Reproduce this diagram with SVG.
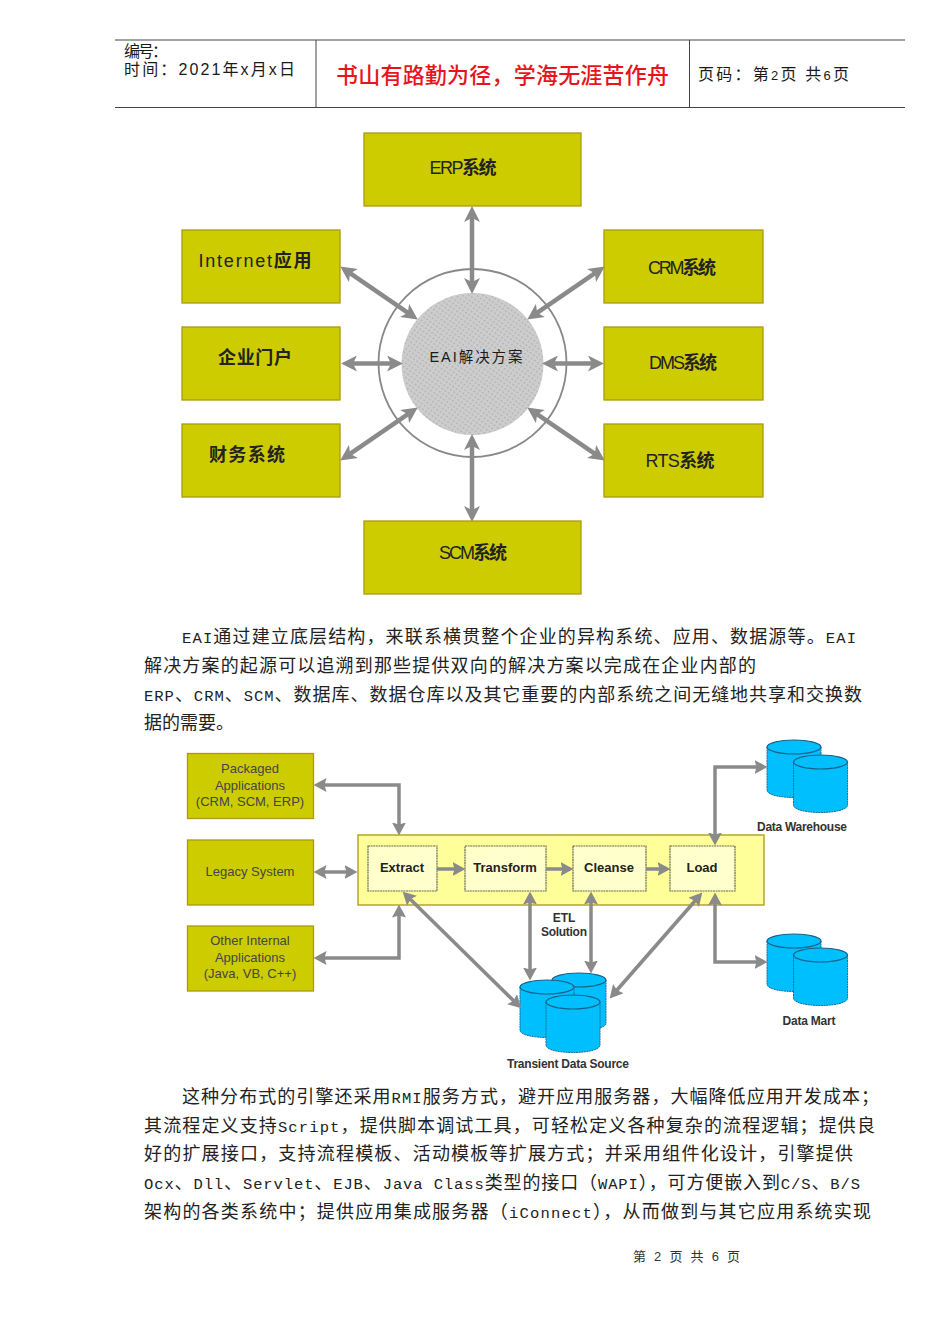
<svg xmlns="http://www.w3.org/2000/svg" xmlns:xlink="http://www.w3.org/1999/xlink" width="950" height="1344" viewBox="0 0 950 1344">
<style>
text{font-family:"Liberation Sans","Noto Sans CJK SC",sans-serif;fill:#1a1a1a}
.body{font-family:"Liberation Mono","Noto Sans CJK SC",monospace;font-size:18px;fill:#222}
.l{font-size:15.500px}
.hd{font-size:16px}
.big{font-size:18px;text-anchor:middle;fill:#222}
.z{font-weight:bold}
.sm{font-size:13px;text-anchor:middle;fill:#444}
.bd{font-size:12px;font-weight:bold;text-anchor:middle;fill:#333}
.st{font-size:13px;font-weight:bold;text-anchor:middle;fill:#222}
.olive{fill:#cccc00;stroke:#ab9a10;stroke-width:1.300}
.inner{fill:#ffffcc;stroke:#6a6a50;stroke-width:1.200;stroke-dasharray:2 .6}
.rule{stroke:#444;stroke-width:1;fill:none}
.a1{stroke:#8a8a8a;stroke-width:4.500;fill:none;marker-start:url(#h1);marker-end:url(#h1)}
.a2{stroke:#8a8a8a;stroke-width:3.500;fill:none;stroke-linejoin:miter;marker-start:url(#h2);marker-end:url(#h2)}
.a3{stroke:#8a8a8a;stroke-width:3.500;fill:none;marker-end:url(#h2)}
</style>
<defs>
<marker id="h1" viewBox="0 0 16 16" refX="9" refY="8" markerUnits="userSpaceOnUse" markerWidth="16" markerHeight="16" orient="auto-start-reverse"><path d="M0 0 L16 8 L0 16 L4 8Z" fill="#8a8a8a"/></marker>
<marker id="h2" viewBox="0 0 13 14" refX="6.500" refY="7" markerUnits="userSpaceOnUse" markerWidth="13" markerHeight="14" orient="auto-start-reverse"><path d="M0 0 L13 7 L0 14 L2 7Z" fill="#8a8a8a"/></marker>
<pattern id="tex" width="4" height="4" patternUnits="userSpaceOnUse" patternTransform="rotate(35)"><rect width="4" height="4" fill="#cdcdcd"/><rect width="2" height="1.400" fill="#b4b4b4"/></pattern>
<g id="cyl"><path d="M0 7 V50 C0 60 54 60 54 50 V7Z" fill="#00bfff" stroke="#1a6f9c" stroke-width="1" stroke-dasharray="2 .6"/><ellipse cx="27" cy="7" rx="27" ry="7" fill="#00bfff" stroke="#1a5f85" stroke-width="1.200"/></g>
</defs>
<rect width="950" height="1344" fill="#fff"/>

<g id="header">
<path class="rule" d="M115 40H905M115 107.500H905M316 40V107.500M689.500 40V107.500"/>
<text class="hd" x="124" y="57" textLength="44">编号：</text>
<text class="hd" x="124" y="75" textLength="171">时间：<tspan font-size="16">2021</tspan>年<tspan font-size="16">x</tspan>月<tspan font-size="16">x</tspan>日</text>
<text x="336" y="83" font-size="22" font-weight="500" style="fill:#e8141c" textLength="333">书山有路勤为径，学海无涯苦作舟</text>
<text class="hd" x="698" y="80" textLength="151">页码：第<tspan font-size="13">2</tspan>页 共<tspan font-size="13">6</tspan>页</text>
</g>

<g id="eai-ring">
<circle cx="472.500" cy="363" r="94" fill="#fff" stroke="#888" stroke-width="1.800"/>
<circle cx="472.500" cy="364" r="71" fill="url(#tex)"/>
<text x="476" y="362" font-size="14.500" text-anchor="middle" textLength="93">EAI解决方案</text>
</g>
<g id="connectors-eai">
<path class="a1" d="M472 213V287"/>
<path class="a1" d="M472 441V515"/>
<path class="a1" d="M348 363.500H396"/>
<path class="a1" d="M597 363.500H549"/>
<path class="a1" d="M346 270.400L412 315.600"/>
<path class="a1" d="M599 270.400L533 315.600"/>
<path class="a1" d="M346 456.600L412 411.400"/>
<path class="a1" d="M599 456.600L533 411.400"/>
</g>
<g id="n-erp"><rect class="olive" x="364" y="133" width="217" height="73"/><text class="big" x="463" y="174" textLength="67">ERP<tspan class="z">系统</tspan></text></g>
<g id="n-internet"><rect class="olive" x="182" y="230" width="158" height="73"/><text class="big" x="255" y="267" textLength="113">Internet<tspan class="z">应用</tspan></text></g>
<g id="n-portal"><rect class="olive" x="182" y="327" width="158" height="73"/><text class="big z" x="255" y="364" textLength="74">企业门户</text></g>
<g id="n-finance"><rect class="olive" x="182" y="424" width="158" height="73"/><text class="big z" x="247" y="461" textLength="76">财务系统</text></g>
<g id="n-crm"><rect class="olive" x="604" y="230" width="159" height="73"/><text class="big" x="682" y="274" textLength="68">CRM<tspan class="z">系统</tspan></text></g>
<g id="n-dms"><rect class="olive" x="604" y="327" width="159" height="73"/><text class="big" x="683" y="369" textLength="68">DMS<tspan class="z">系统</tspan></text></g>
<g id="n-rts"><rect class="olive" x="604" y="424" width="159" height="73"/><text class="big" x="680" y="467" textLength="69">RTS<tspan class="z">系统</tspan></text></g>
<g id="n-scm"><rect class="olive" x="364" y="521" width="217" height="73"/><text class="big" x="473" y="559" textLength="68">SCM<tspan class="z">系统</tspan></text></g>

<g id="para1" class="para">
<text class="body" x="182" y="643" textLength="674"><tspan class="l">EAI</tspan>通过建立底层结构，来联系横贯整个企业的异构系统、应用、数据源等。<tspan class="l">EAI</tspan></text>
<text class="body" x="144" y="672" textLength="612">解决方案的起源可以追溯到那些提供双向的解决方案以完成在企业内部的</text>
<text class="body" x="144" y="701" textLength="718"><tspan class="l">ERP</tspan>、<tspan class="l">CRM</tspan>、<tspan class="l">SCM</tspan>、数据库、数据仓库以及其它重要的内部系统之间无缝地共享和交换数</text>
<text class="body" x="144" y="729" textLength="90">据的需要。</text>
</g>

<g id="n-etl"><rect x="358" y="835" width="406" height="70" fill="#ffff99" stroke="#b5a52a" stroke-width="1.500"/>
<text class="bd" x="564" y="922">ETL</text><text class="bd" x="564" y="936" textLength="46">Solution</text></g>
<g id="n-packaged"><rect class="olive" x="187.500" y="753.500" width="126" height="65"/><text class="sm" x="250" y="773">Packaged</text><text class="sm" x="250" y="790">Applications</text><text class="sm" x="250" y="806">(CRM, SCM, ERP)</text></g>
<g id="n-legacy"><rect class="olive" x="187.500" y="840" width="126" height="65"/><text class="sm" x="250" y="876">Legacy System</text></g>
<g id="n-other"><rect class="olive" x="187.500" y="926" width="126" height="65"/><text class="sm" x="250" y="945">Other Internal</text><text class="sm" x="250" y="962">Applications</text><text class="sm" x="250" y="978">(Java, VB, C++)</text></g>
<g id="n-extract"><rect class="inner" x="368" y="846" width="69" height="45"/><text class="st" x="402" y="872">Extract</text></g>
<g id="n-transform"><rect class="inner" x="465" y="846" width="81" height="45"/><text class="st" x="505" y="872">Transform</text></g>
<g id="n-cleanse"><rect class="inner" x="573" y="846" width="73" height="45"/><text class="st" x="609" y="872">Cleanse</text></g>
<g id="n-load"><rect class="inner" x="670" y="846" width="65" height="45"/><text class="st" x="702" y="872">Load</text></g>

<g id="n-warehouse"><use xlink:href="#cyl" href="#cyl" x="767" y="740"/><use xlink:href="#cyl" href="#cyl" x="793.500" y="755"/><text class="bd" x="802" y="831" textLength="90">Data Warehouse</text></g>
<g id="n-mart"><use xlink:href="#cyl" href="#cyl" x="767" y="934"/><use xlink:href="#cyl" href="#cyl" x="793.500" y="948"/><text class="bd" x="809" y="1025" textLength="53">Data Mart</text></g>
<g id="n-transient"><use xlink:href="#cyl" href="#cyl" x="552" y="973"/><use xlink:href="#cyl" href="#cyl" x="520" y="980"/><use xlink:href="#cyl" href="#cyl" x="546" y="995"/><text class="bd" x="568" y="1068" textLength="122">Transient Data Source</text></g>

<g id="connectors-etl">
<path class="a2" d="M320 785H399V829"/>
<path class="a2" d="M320 872H351"/>
<path class="a2" d="M320 958H399V911"/>
<path class="a3" d="M437 869H459"/>
<path class="a3" d="M546 869H567"/>
<path class="a3" d="M646 869H664"/>
<path class="a2" d="M407.300 896.200L516.700 1003.800"/>
<path class="a2" d="M530 898V974"/>
<path class="a2" d="M591 898V967"/>
<path class="a2" d="M698 897.500L614 993.500"/>
<path class="a2" d="M715 839V767H761"/>
<path class="a2" d="M715 899V962H761"/>
</g>

<g id="para2" class="para">
<text class="body" x="182" y="1103" textLength="697">这种分布式的引擎还采用<tspan class="l">RMI</tspan>服务方式，避开应用服务器，大幅降低应用开发成本；</text>
<text class="body" x="144" y="1132" textLength="731">其流程定义支持<tspan class="l">Script</tspan>，提供脚本调试工具，可轻松定义各种复杂的流程逻辑；提供良</text>
<text class="body" x="144" y="1160" textLength="709">好的扩展接口，支持流程模板、活动模板等扩展方式；并采用组件化设计，引擎提供</text>
<text class="body" x="144" y="1189" textLength="716"><tspan class="l">Ocx</tspan>、<tspan class="l">Dll</tspan>、<tspan class="l">Servlet</tspan>、<tspan class="l">EJB</tspan>、<tspan class="l">Java Class</tspan>类型的接口（<tspan class="l">WAPI</tspan>），可方便嵌入到<tspan class="l">C/S</tspan>、<tspan class="l">B/S</tspan></text>
<text class="body" x="144" y="1218" textLength="727">架构的各类系统中；提供应用集成服务器（<tspan class="l">iConnect</tspan>），从而做到与其它应用系统实现</text>
</g>
<text id="footer" x="633" y="1261" font-size="13" textLength="107" style="fill:#333">第 2 页 共 6 页</text>
</svg>
